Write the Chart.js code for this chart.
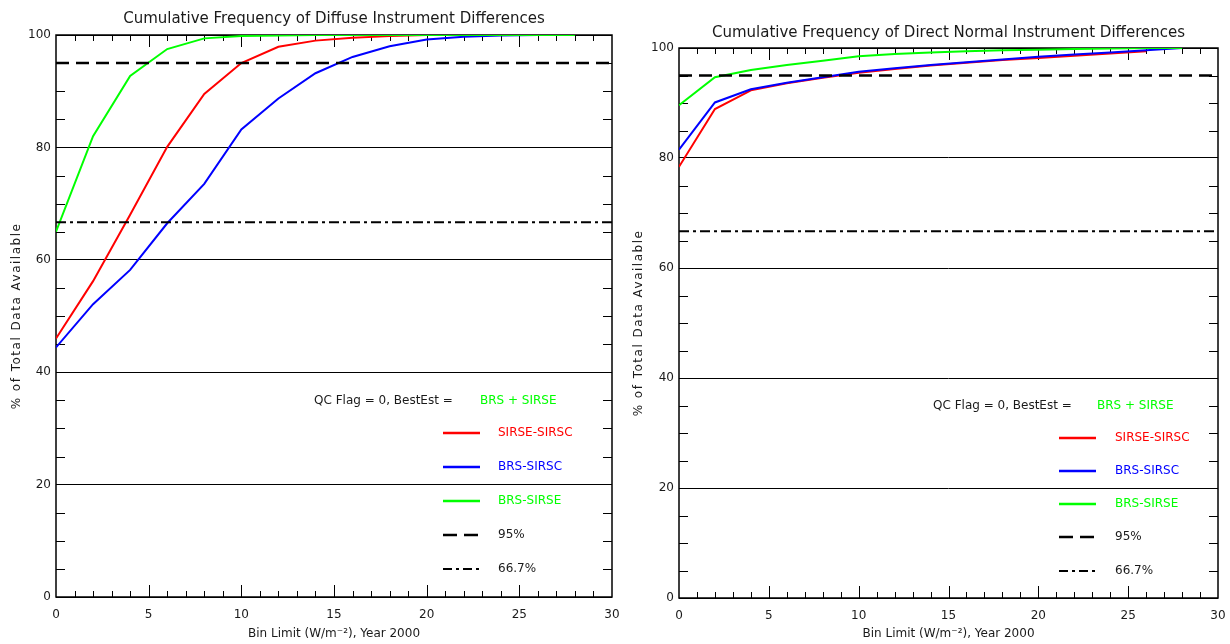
<!DOCTYPE html>
<html>
<head>
<meta charset="utf-8">
<script src="https://cdn.jsdelivr.net/npm/chart.js@4.4.1/dist/chart.umd.min.js"></script>
<style>
  html, body { margin: 0; padding: 0; background: #fff; }
  #wrap { position: relative; width: 1230px; height: 644px; overflow: hidden; background: #fff; }
  .pane { position: absolute; top: 0; }
  #paneL { left: 0; width: 620px; height: 644px; }
  #paneR { left: 620px; width: 610px; height: 644px; }
</style>
</head>
<body>
<div id="wrap">
  <div class="pane" id="paneL"><canvas id="cL" width="620" height="644"></canvas></div>
  <div class="pane" id="paneR"><canvas id="cR" width="610" height="644"></canvas></div>
</div>
<script>
// ---------------- DATA ----------------
const binLimits = [0, 2, 4, 6, 8, 10, 12, 14, 16, 18, 20, 22, 24, 26, 28];

// Diffuse (left panel)
const diffuseSirseSirsc = [46.0, 56.2, 68.0, 80.1, 89.5, 95.0, 97.9, 99.0, 99.5, 99.8, 100.0];
const diffuseBrsSirsc   = [44.4, 52.1, 58.2, 66.5, 73.5, 83.2, 88.7, 93.2, 96.1, 98.0, 99.2, 99.7, 99.9, 100.0];
const diffuseBrsSirse   = [65.0, 82.0, 92.7, 97.5, 99.4, 99.8, 99.9, 100.0, 100.0, 100.0, 100.0, 100.0, 100.0, 100.0, 100.0];

// Direct normal (right panel)
const directSirseSirsc = [78.4, 88.9, 92.3, 93.6, 94.6, 95.5, 96.2, 96.8, 97.3, 97.8, 98.2, 98.6, 99.0, 99.4];
const directBrsSirsc   = [81.5, 90.1, 92.5, 93.7, 94.7, 95.7, 96.3, 96.9, 97.4, 97.9, 98.4, 98.8, 99.2, 99.6, 100.0];
const directBrsSirse   = [89.6, 94.7, 96.0, 96.9, 97.7, 98.5, 98.9, 99.2, 99.4, 99.6, 99.7, 99.8, 99.9, 100.0, 100.0];

const refLevels = [95, 66.7];            // 95% and 66.7% reference lines
const xRange = [0, 30];
const yRange = [0, 100];
const xTickStep = 5, yTickStep = 20;
const seriesNames = ['SIRSE-SIRSC', 'BRS-SIRSC', 'BRS-SIRSE'];
const refNames = ['95%', '66.7%'];

// ---------------- STYLE ----------------
const FONT = '"DejaVu Sans", "Liberation Sans", sans-serif';
const TXT = '#1a1a1a';
const COLORS = ['#ff0000', '#0000ff', '#00ff00'];
const DASH95 = [13, 7];
const DASHDOT = [10, 4, 3, 4];

function pts(arr) { return arr.map((v, i) => ({ x: binLimits[i], y: v })); }

function buildDatasets(series) {
  const ds = series.map((arr, i) => ({
    label: seriesNames[i], data: pts(arr), borderColor: COLORS[i],
    borderWidth: 2, pointRadius: 0, tension: 0, fill: false, order: 10 - i
  }));
  ds.push({ label: refNames[0], data: [{x: xRange[0], y: refLevels[0]}, {x: xRange[1], y: refLevels[0]}],
    borderColor: '#000', borderWidth: 2.5, borderDash: DASH95, pointRadius: 0, order: 1 });
  ds.push({ label: refNames[1], data: [{x: xRange[0], y: refLevels[1]}, {x: xRange[1], y: refLevels[1]}],
    borderColor: '#000', borderWidth: 2, borderDash: DASHDOT, pointRadius: 0, order: 0 });
  return ds;
}

function decorPlugin(o) {
  return {
    id: 'decor',
    beforeDatasetsDraw(chart) {
      const ctx = chart.ctx, a = chart.chartArea;
      const xs = chart.scales.x, ys = chart.scales.y;
      ctx.save();
      ctx.strokeStyle = '#000';
      ctx.lineWidth = 1;
      ctx.beginPath();
      for (let v = yRange[0]; v <= yRange[1]; v += 5) {
        if (v % yTickStep === 0) continue;
        const y = Math.round(ys.getPixelForValue(v)) + 0.5;
        ctx.moveTo(a.left, y); ctx.lineTo(a.left + 9, y);
        ctx.moveTo(a.right, y); ctx.lineTo(a.right - 9, y);
      }
      for (let v = xRange[0] + 1; v < xRange[1]; v += 1) {
        const x = Math.round(xs.getPixelForValue(v)) + 0.5;
        const len = (v % xTickStep === 0) ? 12 : 6;
        ctx.moveTo(x, a.bottom); ctx.lineTo(x, a.bottom - len);
        ctx.moveTo(x, a.top); ctx.lineTo(x, a.top + len);
      }
      ctx.stroke();
      ctx.lineWidth = 1.5;
      ctx.strokeRect(a.left, a.top, a.right - a.left, a.bottom - a.top);
      ctx.restore();
    },
    afterDraw(chart) {
      const ctx = chart.ctx, a = chart.chartArea;
      const cx = (a.left + a.right) / 2;
      ctx.save();
      ctx.fillStyle = TXT;
      ctx.textBaseline = 'middle';
      ctx.textAlign = 'center';
      ctx.font = '15px ' + FONT;
      ctx.fillText(o.title, cx, o.titleY);
      ctx.font = '12px ' + FONT;
      ctx.fillText('Bin Limit (W/m\u207B\u00B2), Year 2000', cx, o.xTitleY);
      ctx.save();
      ctx.translate(o.yTitleX, (a.top + a.bottom) / 2);
      ctx.rotate(-Math.PI / 2);
      ctx.letterSpacing = '1.5px';
      ctx.fillText('% of Total Data Available', 0, 0);
      ctx.restore();
      const L = o.legend;
      ctx.textAlign = 'left';
      ctx.font = '12px ' + FONT;
      ctx.fillStyle = TXT;
      ctx.fillText('QC Flag = 0, BestEst =', L.qcX, L.qcY);
      ctx.fillStyle = COLORS[2];
      ctx.fillText('BRS + SIRSE', L.bestX, L.qcY);
      const items = [
        { name: seriesNames[0], color: COLORS[0], dash: [], w: 2.5, txt: COLORS[0] },
        { name: seriesNames[1], color: COLORS[1], dash: [], w: 2.5, txt: COLORS[1] },
        { name: seriesNames[2], color: COLORS[2], dash: [], w: 2.5, txt: COLORS[2] },
        { name: refNames[0], color: '#000', dash: [14, 7], w: 2.5, txt: TXT },
        { name: refNames[1], color: '#000', dash: [9, 4, 3, 4], w: 2, txt: TXT }
      ];
      items.forEach((it, i) => {
        const y = L.rowY[i];
        ctx.beginPath();
        ctx.setLineDash(it.dash);
        ctx.strokeStyle = it.color;
        ctx.lineWidth = it.w;
        ctx.moveTo(L.lineX0, y); ctx.lineTo(L.lineX1, y);
        ctx.stroke();
        ctx.setLineDash([]);
        ctx.fillStyle = it.txt;
        ctx.fillText(it.name, L.textX, y);
      });
      ctx.restore();
    }
  };
}

function makeChart(canvasId, series, o) {
  return new Chart(document.getElementById(canvasId), {
    type: 'line',
    data: { datasets: buildDatasets(series) },
    options: {
      responsive: false,
      animation: false,
      devicePixelRatio: 1,
      events: [],
      layout: { autoPadding: false, padding: o.padding },
      plugins: { legend: { display: false }, title: { display: false }, tooltip: { enabled: false } },
      scales: {
        x: {
          type: 'linear', min: xRange[0], max: xRange[1],
          afterFit(s) { s.height = o.xAxisH; s.paddingLeft = 0; s.paddingRight = 0; },
          ticks: { stepSize: xTickStep, padding: o.xTickPad, color: TXT, maxRotation: 0,
                   font: { family: FONT, size: 12 } },
          grid: { display: false, drawTicks: false },
          border: { display: false }
        },
        y: {
          type: 'linear', min: yRange[0], max: yRange[1],
          afterFit(s) { s.width = o.yAxisW; s.paddingTop = 0; s.paddingBottom = 0; },
          ticks: { stepSize: yTickStep, padding: 5, color: TXT, font: { family: FONT, size: 12 } },
          grid: { color: '#000', lineWidth: 1, drawTicks: false },
          border: { display: false }
        }
      }
    },
    plugins: [decorPlugin(o)]
  });
}

makeChart('cL', [diffuseSirseSirsc, diffuseBrsSirsc, diffuseBrsSirse], {
  title: 'Cumulative Frequency of Diffuse Instrument Differences',
  padding: { left: 0, right: 8, top: 35, bottom: 0 },
  yAxisW: 56, xAxisH: 47, xTickPad: 11,
  titleY: 19, xTitleY: 634, yTitleX: 17,
  legend: { qcX: 314, qcY: 401, bestX: 480, lineX0: 443, lineX1: 480, textX: 498,
            rowY: [433, 467, 501, 535, 569] }
});

makeChart('cR', [directSirseSirsc, directBrsSirsc, directBrsSirse], {
  title: 'Cumulative Frequency of Direct Normal Instrument Differences',
  padding: { left: 0, right: 12, top: 48, bottom: 0 },
  yAxisW: 59, xAxisH: 46, xTickPad: 11,
  titleY: 33, xTitleY: 634, yTitleX: 19,
  legend: { qcX: 313, qcY: 406, bestX: 477, lineX0: 439, lineX1: 476, textX: 495,
            rowY: [438, 471, 504, 537, 571] }
});
</script>
</body>
</html>
